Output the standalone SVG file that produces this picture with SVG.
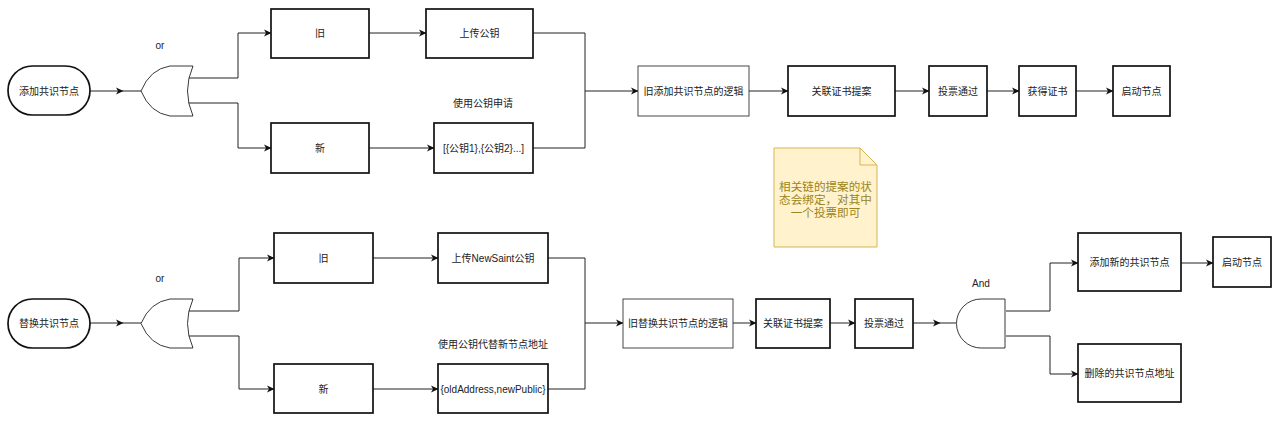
<svg xmlns="http://www.w3.org/2000/svg" width="1280" height="422" viewBox="0 0 1280 422">
<defs>
<marker id="arr" markerWidth="8" markerHeight="8" refX="7" refY="4" orient="auto" markerUnits="userSpaceOnUse">
<path d="M0,0.5 L7.5,4 L0,7.5 L2,4 Z" fill="#111"/>
</marker>
<style>
text{font-family:"Liberation Sans","Noto Sans CJK SC",sans-serif;font-size:10px;fill:#222;text-anchor:middle;dominant-baseline:central}
.box{fill:#fff;stroke:#111;stroke-width:1.7}
.thin{fill:#fff;stroke:#333;stroke-width:0.9}
.gate{fill:#fff;stroke:#222;stroke-width:0.9}
.ln{fill:none;stroke:#222;stroke-width:1}
.ar{fill:none;stroke:#222;stroke-width:1;marker-end:url(#arr)}
.note text{fill:#9a8420;font-size:11.6px}
</style>
</defs>
<rect width="1280" height="422" fill="#fff"/>

<g id="connectors">
<!-- top -->
<path class="ar" d="M90 91 H123"/>
<path class="ln" d="M123 91 H141"/>
<path class="ar" d="M188 78 H238 V33 H271"/>
<path class="ar" d="M188 103 H238 V148 H271"/>
<path class="ar" d="M369 33 H426"/>
<path class="ar" d="M369 148 H434"/>
<path class="ln" d="M533 33 H585 V148 H533"/>
<path class="ar" d="M585 91 H638"/>
<path class="ar" d="M749 91 H788"/>
<path class="ar" d="M895 91 H929"/>
<path class="ar" d="M987 91 H1019"/>
<path class="ar" d="M1076 91 H1113"/>
<!-- bottom -->
<path class="ar" d="M90 323 H123"/>
<path class="ln" d="M123 323 H141"/>
<path class="ar" d="M188 311 H239 V258 H274"/>
<path class="ar" d="M188 336 H239 V389 H274"/>
<path class="ar" d="M373 258 H438"/>
<path class="ar" d="M373 389 H438"/>
<path class="ln" d="M548 258 H585 V389 H548"/>
<path class="ar" d="M585 323 H623"/>
<path class="ar" d="M733 323 H756"/>
<path class="ar" d="M830 323 H855"/>
<path class="ar" d="M913 323 H940"/>
<path class="ln" d="M940 323 H956"/>
<path class="ar" d="M1006 311 H1050 V263 H1078"/>
<path class="ar" d="M1006 336 H1050 V374 H1078"/>
<path class="ar" d="M1181 263 H1213"/>
</g>

<!-- top row -->
<g id="start1"><rect class="box" x="8" y="66" width="82" height="49" rx="24.5"/><text x="49" y="91">添加共识节点</text></g>
<g id="or1"><path class="gate" d="M193 66 Q182 91 193 116 L170 116 Q150 113 141 91 Q150 69 170 66 Z"/><text x="160" y="45">or</text></g>
<g id="old1"><rect class="box" x="271" y="9" width="98" height="49"/><text x="320" y="33.5">旧</text></g>
<g id="upload1"><rect class="box" x="426" y="9" width="107" height="49"/><text x="479.5" y="33.5">上传公钥</text></g>
<g id="new1"><rect class="box" x="271" y="123" width="98" height="50"/><text x="320" y="148">新</text></g>
<g id="keys1"><rect class="box" x="434" y="123" width="99" height="50"/><text x="483.5" y="148">[{公钥1},{公钥2}...]</text></g>
<g id="label1"><text x="483" y="103">使用公钥申请</text></g>
<g id="logic1"><rect class="thin" x="638" y="66" width="111" height="50"/><text x="693.5" y="91">旧添加共识节点的逻辑</text></g>
<g id="proposal1"><rect class="box" x="788" y="66" width="107" height="50"/><text x="841.5" y="91">关联证书提案</text></g>
<g id="vote1"><rect class="box" x="929" y="66" width="58" height="50"/><text x="958" y="91">投票通过</text></g>
<g id="cert1"><rect class="box" x="1019" y="66" width="57" height="50"/><text x="1047.5" y="91">获得证书</text></g>
<g id="startnode1"><rect class="box" x="1113" y="66" width="57" height="50"/><text x="1141.5" y="91">启动节点</text></g>

<g id="note" class="note">
<path d="M774 148 H860 L877 165 V247 H774 Z" fill="#fff2cc" stroke="#d6b656" stroke-width="1"/>
<path d="M860 148 V165 H877" fill="none" stroke="#d6b656" stroke-width="1"/>
<text x="825.5" y="186">相关链的提案的状</text>
<text x="825.5" y="199">态会绑定，对其中</text>
<text x="825.5" y="212">一个投票即可</text>
</g>

<!-- bottom row -->
<g id="start2"><rect class="box" x="8" y="299" width="82" height="49" rx="24.5"/><text x="49" y="323.5">替换共识节点</text></g>
<g id="or2"><path class="gate" d="M193 299 Q182 323.5 193 348 L170 348 Q150 345 141 323.5 Q150 302 170 299 Z"/><text x="160" y="278">or</text></g>
<g id="old2"><rect class="box" x="274" y="233" width="99" height="50"/><text x="323.5" y="258">旧</text></g>
<g id="upload2"><rect class="box" x="438" y="233" width="110" height="50"/><text x="493" y="258">上传NewSaint公钥</text></g>
<g id="new2"><rect class="box" x="274" y="364" width="99" height="49"/><text x="323.5" y="389">新</text></g>
<g id="keys2"><rect class="box" x="438" y="364" width="110" height="49"/><text x="493" y="389">{oldAddress,newPublic}</text></g>
<g id="label2"><text x="493" y="344">使用公钥代替新节点地址</text></g>
<g id="logic2"><rect class="thin" x="623" y="299" width="110" height="49"/><text x="678" y="323.5">旧替换共识节点的逻辑</text></g>
<g id="proposal2"><rect class="box" x="756" y="299" width="74" height="49"/><text x="793" y="323.5">关联证书提案</text></g>
<g id="vote2"><rect class="box" x="855" y="299" width="58" height="49"/><text x="884" y="323.5">投票通过</text></g>
<g id="and"><path class="gate" d="M1005 299 V348 H981 A24.5 24.5 0 0 1 981 299 Z"/><text x="981" y="283">And</text></g>
<g id="addnew"><rect class="box" x="1078" y="233" width="103" height="58"/><text x="1129.5" y="262.5">添加新的共识节点</text></g>
<g id="startnode2"><rect class="box" x="1213" y="237" width="58" height="50"/><text x="1242" y="262.5">启动节点</text></g>
<g id="remove"><rect class="box" x="1078" y="344" width="103" height="58"/><text x="1129.5" y="373">删除的共识节点地址</text></g>
</svg>
